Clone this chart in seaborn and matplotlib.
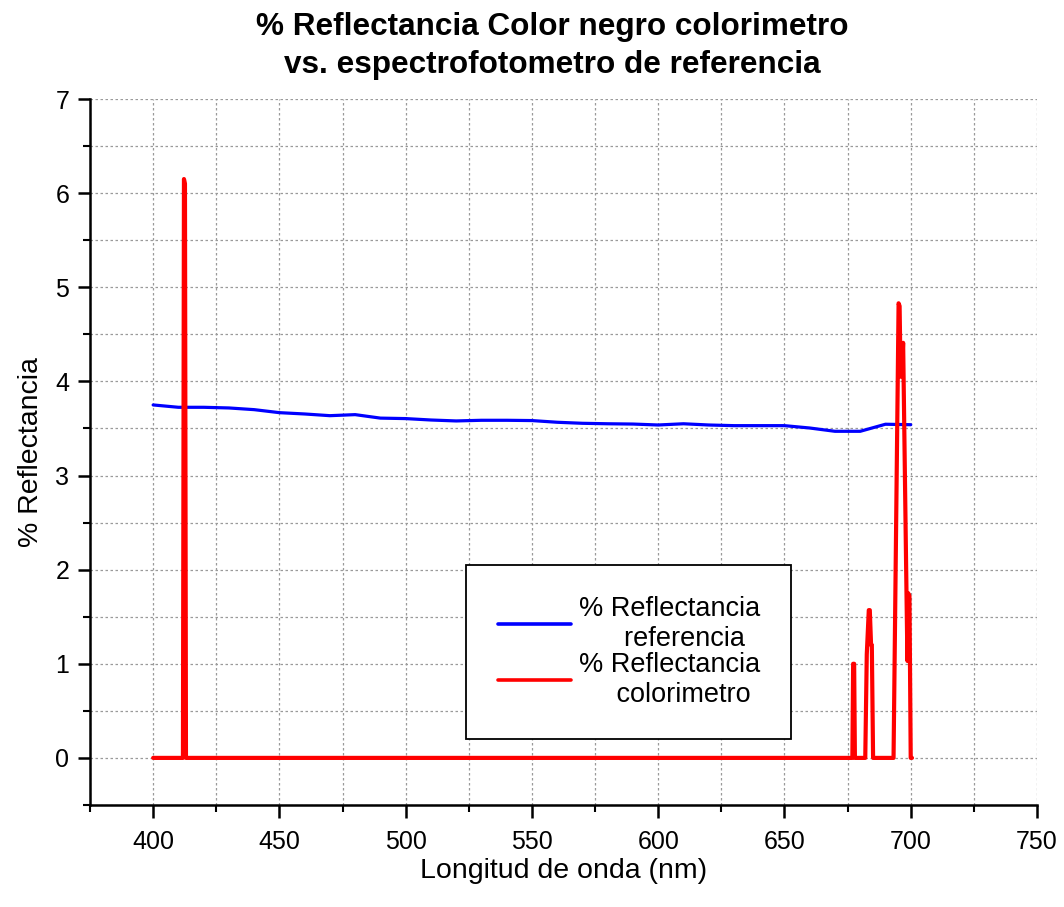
import numpy as np
import pandas as pd
import seaborn as sns
import matplotlib
matplotlib.use("Agg")
import matplotlib.pyplot as plt
from matplotlib.ticker import MultipleLocator

# Reference spectrophotometer, 10 nm steps
ref_nm = [400, 410, 420, 430, 440, 450, 460, 470, 480, 490, 500, 510, 520, 530,
          540, 550, 560, 570, 580, 590, 600, 610, 620, 630, 640, 650, 660, 670,
          680, 690, 700]
ref_refl = [3.75, 3.725, 3.725, 3.718, 3.70, 3.668, 3.654, 3.636, 3.647, 3.61,
            3.605, 3.59, 3.58, 3.587, 3.587, 3.584, 3.566, 3.555, 3.55, 3.547,
            3.537, 3.55, 3.537, 3.53, 3.53, 3.53, 3.505, 3.47, 3.47, 3.545, 3.54]

# Colorimeter readings
col_nm = [400, 411.8, 412.2, 412.6, 413.0, 676.9, 677.2, 677.6, 677.9, 682.0,
          682.6, 683.4, 683.8, 684.3, 684.6, 685.1, 693.2, 695.2, 695.6, 696.0,
          696.5, 697.0, 698.1, 698.7, 699.0, 699.5, 700.0, 700.5]
col_refl = [0, 0, 6.15, 6.1, 0, 0, 1.0, 1.0, 0, 0,
            1.1, 1.57, 1.57, 1.2, 1.2, 0, 0, 4.83, 4.8, 4.05,
            4.1, 4.41, 2.2, 1.03, 1.75, 1.72, 0, 0]

title_lines = ["% Reflectancia Color negro colorimetro",
               "vs. espectrofotometro de referencia"]
label_ref = "% Reflectancia\n      referencia"
label_col = "% Reflectancia\n     colorimetro"

sns.set_theme(style="ticks")
plt.rcParams["font.family"] = ["Liberation Sans", "DejaVu Sans"]
plt.rcParams["text.color"] = "black"
plt.rcParams["axes.labelcolor"] = "black"

fig = plt.figure(figsize=(10.64, 9.07), dpi=100)
ax = fig.add_axes([0.0846, 0.1125, 0.890, 0.7783])

df_ref = pd.DataFrame({"nm": ref_nm, "refl": ref_refl})
df_col = pd.DataFrame({"nm": col_nm, "refl": col_refl})

sns.lineplot(data=df_ref, x="nm", y="refl", ax=ax, color="#0000FF", lw=2.3,
             estimator=None, sort=False, label=label_ref)
sns.lineplot(data=df_col, x="nm", y="refl", ax=ax, color="#FF0000", lw=3.0,
             estimator=None, sort=False, label=label_col)

ax.set_xlim(375, 750)
ax.set_ylim(-0.5, 7)
ax.xaxis.set_major_locator(MultipleLocator(50))
ax.xaxis.set_minor_locator(MultipleLocator(25))
ax.yaxis.set_major_locator(MultipleLocator(1))
ax.yaxis.set_minor_locator(MultipleLocator(0.5))

ax.grid(True, which="both", color="#9a9a9a", linestyle=(0, (2, 2)), lw=0.9)
ax.set_axisbelow(True)

for side in ("top", "right"):
    ax.spines[side].set_visible(False)
for side in ("left", "bottom"):
    ax.spines[side].set_linewidth(1.8)
    ax.spines[side].set_color("black")

ax.tick_params(which="major", direction="out", length=9, width=1.8,
               labelsize=18, colors="black")
ax.tick_params(axis="x", which="major", pad=9)
ax.tick_params(axis="y", which="major", pad=6)
ax.tick_params(which="minor", direction="out", length=5, width=1.5,
               colors="black")

ax.set_xlabel("Longitud de onda (nm)", fontsize=20.5, labelpad=3)
ax.set_ylabel("% Reflectancia", fontsize=20.5, labelpad=8)

leg = ax.legend(loc="center", bbox_to_anchor=(0.569, 0.217), fontsize=19.5,
                frameon=True, fancybox=False, framealpha=1, edgecolor="black",
                handlelength=2.7, borderpad=1.15, handletextpad=0.3,
                labelspacing=0.0)
leg.get_frame().set_linewidth(1.3)
for line in leg.get_lines():
    line.set_linewidth(2.6)

fig.text(0.519, 0.970, title_lines[0], ha="center", va="center",
         fontsize=22.7, fontweight="bold")
fig.text(0.519, 0.928, title_lines[1], ha="center", va="center",
         fontsize=22.7, fontweight="bold")

fig.savefig("out.png", dpi=100, facecolor="white")
